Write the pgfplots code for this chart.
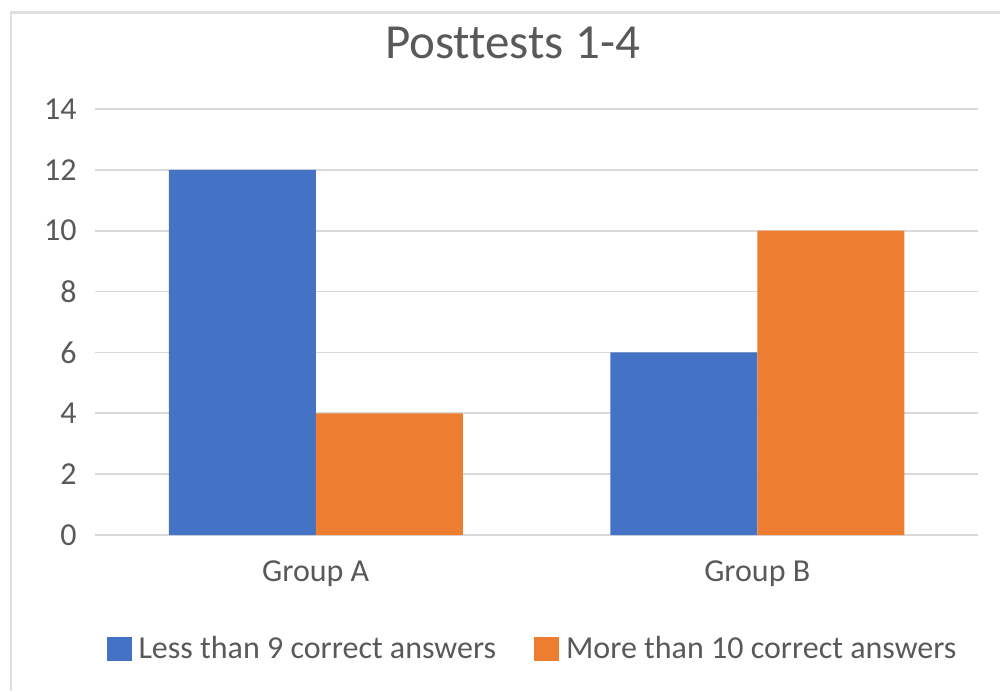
\documentclass[border=0pt]{standalone}
\usepackage{pgfplots}
\pgfplotsset{compat=1.18}
\usepackage{fontspec}
\setmainfont{Carlito}[Ligatures={NoCommon}]
\definecolor{cblue}{HTML}{4472C4}
\definecolor{corange}{HTML}{ED7D31}
\definecolor{cgrid}{HTML}{D9D9D9}
\definecolor{ctext}{HTML}{595959}
\definecolor{cborder}{HTML}{E0E0E0}
\begin{document}
\begin{tikzpicture}
\useasboundingbox (0pt,0pt) rectangle (500pt,345.5pt);
\draw[cborder, line width=1.2pt] (5.5pt,0pt) -- (5.5pt,339.25pt) -- (500pt,339.25pt);
\begin{axis}[
  at={(47.5pt,78pt)}, anchor=south west,
  scale only axis, width=441.5pt, height=213pt,
  ybar=0pt, bar width=73.5pt,
  xmin=-0.5, xmax=1.5, ymin=0, ymax=14,
  xtick={0,1}, xticklabels={Group A, Group B},
  ytick={0,2,...,14},
  /pgf/number format/assume math mode=true,
  ymajorgrids, grid style={cgrid, line width=0.8pt},
  axis line style={draw=none},
  tick style={draw=none},
  ticklabel style={font=\fontsize{16}{19}\selectfont, text=ctext},
  yticklabel style={anchor=east, inner sep=0pt, xshift=-9pt},
  xticklabel style={anchor=north, inner sep=0pt, yshift=-8.5pt},
  title={Posttests 1-4},
  title style={at={(0.5,1)}, anchor=base, yshift=19pt, xshift=-12pt, font=\fontsize{24.5}{29}\selectfont, text=ctext},
  legend columns=2,
  legend style={at={(0.496,-0.2676)}, anchor=center, draw=none, fill=none,
    font=\fontsize{16}{19}\selectfont, text=ctext,
    /tikz/every odd column/.append style={column sep=2pt},
    /tikz/every even column/.append style={column sep=17.5pt},
    nodes={inner sep=1.5pt}},
  legend image code/.code={\fill[#1] (0pt,-6pt) rectangle (12.5pt,6pt);},
  extra y ticks={0}, extra y tick labels={},
  extra y tick style={grid style={cgrid, line width=1pt}},
]
\addplot[fill=cblue, draw=none] coordinates {(0,12) (1,6)};
\addplot[fill=corange, draw=none] coordinates {(0,4) (1,10)};
\legend{Less than 9 correct answers, More than 10 correct answers}
\end{axis}
\end{tikzpicture}
\end{document}
